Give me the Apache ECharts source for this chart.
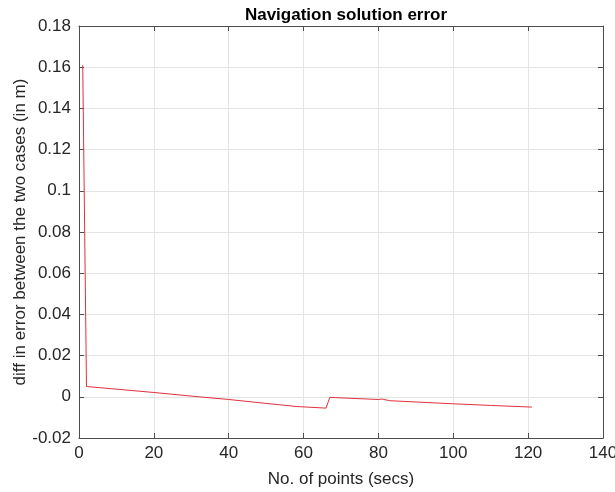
<!DOCTYPE html>
<html>
<head>
<meta charset="utf-8">
<script src="https://cdn.jsdelivr.net/npm/echarts@6/dist/echarts.min.js"></script>
<style>
  html, body { margin: 0; padding: 0; background: #fff; }
  #chart { width: 615px; height: 492px; }
</style>
</head>
<body>
<div id="chart"></div>
<script>
// Sample index (seconds) and the difference in navigation error (m)
const pointSecs = [1, 2, 20, 32, 40, 50, 58, 66, 67, 80, 81, 83, 91, 100, 110, 121];
const errDiff = [0.161, 0.005, 0.0021, 0.0, -0.0013, -0.0032, -0.0047, -0.0055, -0.0003, -0.0013, -0.0011, -0.0019, -0.0026, -0.0034, -0.0042, -0.0050];

const chartTitle = 'Navigation solution error';
const xName = 'No. of points (secs)';
const yName = 'diff in error between the two cases (in m)';

const font = 'Liberation Sans, Arial, Helvetica, sans-serif';
const axisGrey = '#4d4d4d';
const textColor = '#262626';
const fs = 17;

const chart = echarts.init(document.getElementById('chart'), null, { renderer: 'canvas' });

const xBase = {
  type: 'value', min: 0, max: 140, interval: 20,
  axisLine: { show: true, onZero: false, lineStyle: { color: axisGrey, width: 1 } },
  axisTick: { show: true, inside: true, length: 5, lineStyle: { color: axisGrey } },
  splitLine: { show: false }
};
const yBase = {
  type: 'value', min: -0.02, max: 0.18, interval: 0.02,
  axisLine: { show: true, onZero: false, lineStyle: { color: axisGrey, width: 1 } },
  axisTick: { show: true, inside: true, length: 5, lineStyle: { color: axisGrey } },
  splitLine: { show: false }
};

chart.setOption({
  backgroundColor: '#fff',
  animation: false,
  title: {
    text: chartTitle,
    left: 341, top: 2, textAlign: 'center',
    textStyle: { fontFamily: font, fontSize: fs, fontWeight: 'bold', color: '#000' }
  },
  grid: { left: 79, right: 12, top: 26, bottom: 54, containLabel: false, outerBoundsMode: 'none' },
  xAxis: [
    Object.assign({}, xBase, {
      position: 'bottom',
      name: xName, nameLocation: 'middle', nameGap: 33, nameMoveOverlap: false,
      nameTextStyle: { fontFamily: font, fontSize: fs, color: textColor },
      axisLabel: { fontFamily: font, fontSize: fs, color: textColor, margin: 7 },
      splitLine: { show: true, lineStyle: { color: '#e4e4e4', width: 1 } }
    }),
    Object.assign({}, xBase, { position: 'top', axisLabel: { show: false } })
  ],
  yAxis: [
    Object.assign({}, yBase, {
      position: 'left',
      name: yName, nameLocation: 'middle', nameGap: 50, nameMoveOverlap: false,
      nameTextStyle: { fontFamily: font, fontSize: fs, color: textColor },
      axisLabel: {
        fontFamily: font, fontSize: fs, color: textColor, margin: 8,
        formatter: v => String(parseFloat(v.toFixed(2)))
      },
      splitLine: { show: true, lineStyle: { color: '#e4e4e4', width: 1 } }
    }),
    Object.assign({}, yBase, { position: 'right', axisLabel: { show: false } })
  ],
  series: [{
    type: 'line',
    xAxisIndex: 0, yAxisIndex: 0,
    data: pointSecs.map((x, i) => [x, errDiff[i]]),
    showSymbol: false,
    lineStyle: { color: '#e0303c', width: 1 },
    itemStyle: { color: '#e0303c' }
  }]
});
</script>
</body>
</html>
